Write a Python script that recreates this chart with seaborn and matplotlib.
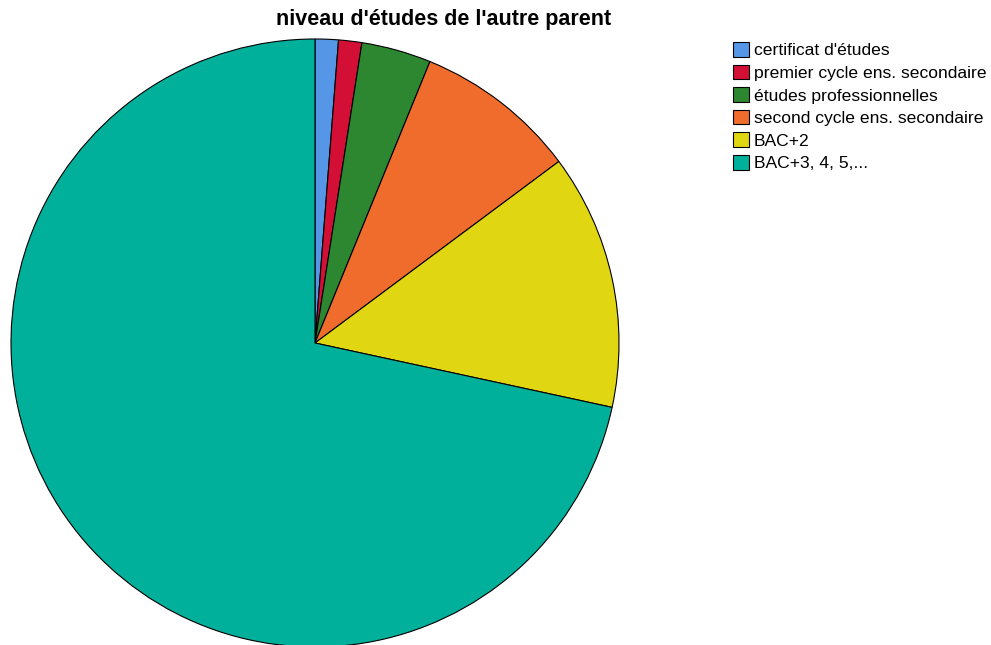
import matplotlib
matplotlib.use("Agg")
import matplotlib.pyplot as plt
import seaborn as sns

sns.set_style("white")
plt.rcParams['font.family'] = ['Liberation Sans', 'DejaVu Sans']
plt.rcParams['text.color'] = 'black'

# data (counts)
categories = ["certificat d'études", "premier cycle ens. secondaire",
              "études professionnelles", "second cycle ens. secondaire",
              "BAC+2", "BAC+3, 4, 5,..."]
counts = [1, 1, 3, 7, 11, 58]
colors = sns.color_palette(["#5596e6", "#d40f35", "#2d8630", "#f06c2c",
                            "#e0d612", "#00b09b"])

fig = plt.figure(figsize=(9.91, 6.45), dpi=100)
ax = fig.add_axes([(315 - 304) / 991, (645 - 343 - 304) / 645,
                   608 / 991, 608 / 645])

wedges, _ = ax.pie(counts, colors=colors, startangle=90, counterclock=False,
                   wedgeprops=dict(edgecolor='black', linewidth=0.8))
ax.set_xlim(-1, 1)
ax.set_ylim(-1, 1)
ax.set_aspect('auto')
ax.axis('off')

fig.text(444 / 991, 1 - 20 / 645, "niveau d'études de l'autre parent",
         ha='center', va='center', fontsize=15.5, fontweight='bold',
         color='black')

leg = fig.legend(wedges, categories, loc='upper left',
                 bbox_to_anchor=(733 / 991, 1 - 42 / 645), frameon=False,
                 fontsize=12.6, handlelength=0.9, handleheight=0.9,
                 handletextpad=0.3, labelspacing=0.36, borderaxespad=0,
                 borderpad=0)
for h in leg.legend_handles:
    h.set_edgecolor('black')
    h.set_linewidth(0.8)

fig.savefig('out.png', dpi=100)
